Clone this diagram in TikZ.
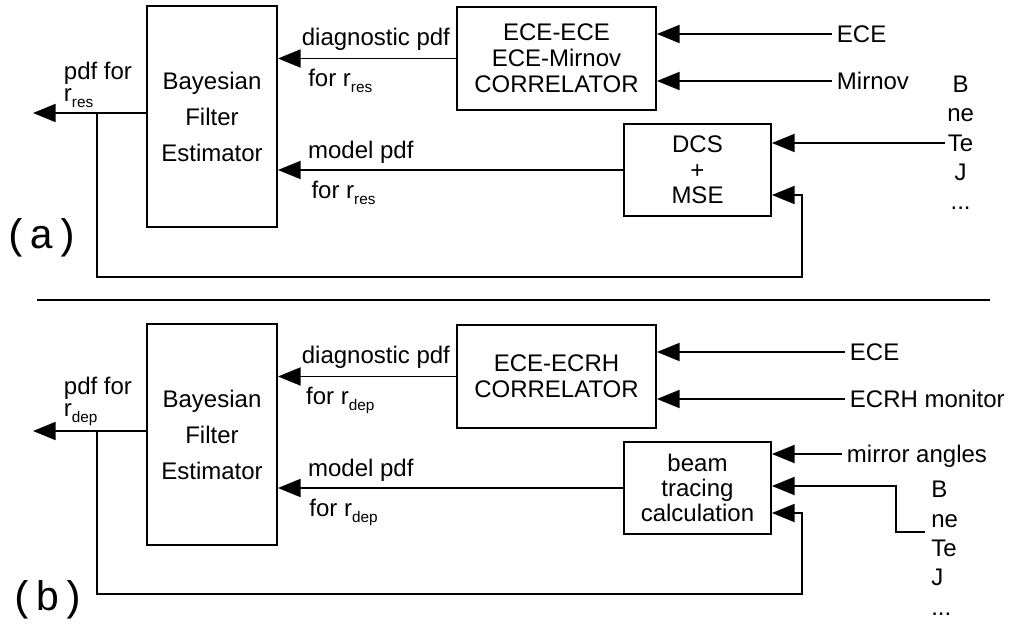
\documentclass[tikz,border=0pt]{standalone}
\usepackage{fontspec}
\setmainfont{Liberation Sans}
\setmonofont{Liberation Mono}
\usetikzlibrary{positioning,arrows.meta}
\newcommand{\rsub}[1]{r\raisebox{-4.5pt}{\fontsize{11.5}{12}\selectfont#1}}

\begin{document}
\begin{tikzpicture}[x=0.75pt,y=-0.75pt,line width=1.4pt,
    >={Triangle[length=17pt,width=13.5pt]},
    every node/.style={font=\fontsize{18}{21}\selectfont,inner sep=3pt},
    estim/.style={draw,align=center,minimum width=97.5pt,minimum height=165.75pt,font=\fontsize{18}{27}\selectfont},
    corr/.style={draw,align=center,minimum width=149.25pt,minimum height=77.25pt,font=\fontsize{18}{19.5}\selectfont},
    calcbox/.style={draw,align=center,minimum width=110.25pt,minimum height=69pt,font=\fontsize{18}{19}\selectfont},
    sig/.style={anchor=west,text depth=0pt},
    params/.style={inner sep=1pt,font=\fontsize{18}{22}\selectfont},
    outlbl/.style={anchor=south west,align=left,font=\fontsize{18}{16.5}\selectfont},
    tag/.style={font=\fontsize{31}{31}\selectfont\ttfamily}]
  \useasboundingbox (0,0) rectangle (1011,624);
  % (a)
  \node[estim] (BFa) at (212,116.5) {Bayesian\\Filter\\Estimator};
  \node[corr] (CORa) at (556.5,58.5) {ECE-ECE\\ECE-Mirnov\\CORRELATOR};
  \node[calcbox] (DCS) at (697.5,170) {DCS\\+\\MSE};
  \node[sig] (ECEa) at (832,34) {ECE};
  \node[sig] (MIR) at (832,81) {Mirnov};
  \node[params,anchor=west,align=center] (PLa) at (945,143) {B\\ne\\Te\\J\\...};
  \node[outlbl] (PDFa) at (59,113) {pdf for\\\rsub{res}};
  \node[tag] (TAGa) at (42,238) {(a)};
  \coordinate (ENDa) at (33,113);
  \coordinate (FBa) at (97,113);
  \coordinate (LOOPa) at (802,277);
  \draw[->] (BFa.west |- ENDa) -- (ENDa);
  \draw[->] (FBa) |- (LOOPa) |- ([yshift=-18.75pt]DCS.east);
  \draw[->] (CORa.west) -- node[above=2pt,pos=0.45] {diagnostic pdf} node[below=4pt,pos=0.65] {for \rsub{res}} (CORa.west -| BFa.east);
  \draw[->] (DCS.west) -- node[above=1.5pt,pos=0.76] {model pdf} node[below=5pt,pos=0.81] {for \rsub{res}} (DCS.west -| BFa.east);
  \draw[->] (ECEa.west) -- (ECEa.west -| CORa.east);
  \draw[->] (MIR.west) -- (MIR.west -| CORa.east);
  \draw[->] (PLa.west) -- (PLa.west -| DCS.east);
  \draw (37,300) -- (990,300);
  % (b)
  \node[estim] (BFb) at (212,434.5) {Bayesian\\Filter\\Estimator};
  \node[corr] (CORb) at (556.5,376.5) {ECE-ECRH\\CORRELATOR};
  \node[calcbox] (BEAM) at (697.5,488) {beam\\tracing\\calculation};
  \node[sig] (ECEb) at (845,352) {ECE};
  \node[sig] (ECRH) at (845,399) {ECRH monitor};
  \node[sig] (MIRR) at (842,454) {mirror angles};
  \node[params,anchor=north west,align=left] (PLb) at (929,479) {B\\ne\\Te\\J\\...};
  \node[outlbl] (PDFb) at (59,431) {pdf for\\\rsub{dep}};
  \node[tag] (TAGb) at (48,600) {(b)};
  \coordinate (ENDb) at (33,431);
  \coordinate (FBb) at (97,431);
  \coordinate (LOOPb) at (802,594);
  \coordinate (TAPb) at (925,532);
  \draw[->] (BFb.west |- ENDb) -- (ENDb);
  \draw[->] (FBb) |- (LOOPb) |- ([yshift=-18.75pt]BEAM.east);
  \draw[->] (CORb.west) -- node[above=2pt,pos=0.45] {diagnostic pdf} node[below=4pt,pos=0.65] {for \rsub{dep}} (CORb.west -| BFb.east);
  \draw[->] (BEAM.west) -- node[above=1.5pt,pos=0.76] {model pdf} node[below=5pt,pos=0.81] {for \rsub{dep}} (BEAM.west -| BFb.east);
  \draw[->] (ECEb.west) -- (ECEb.west -| CORb.east);
  \draw[->] (ECRH.west) -- (ECRH.west -| CORb.east);
  \draw[->] (MIRR.west) -- (MIRR.west -| BEAM.east);
  \draw[->] (TAPb) -- ++(-29,0) |- ([yshift=1.5pt]BEAM.east);
\end{tikzpicture}
\end{document}
